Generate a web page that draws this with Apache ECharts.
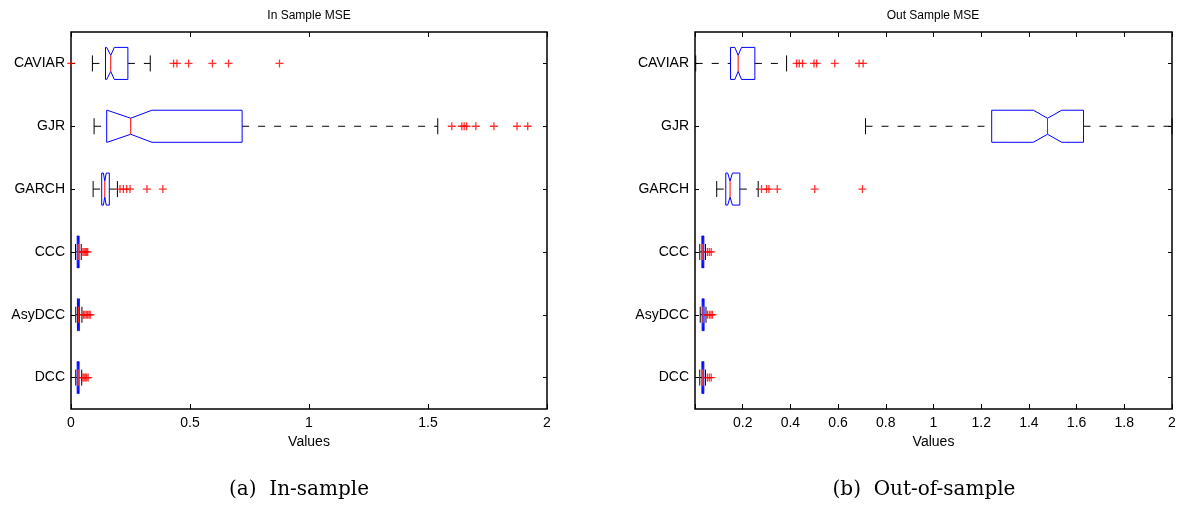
<!DOCTYPE html>
<html>
<head>
<meta charset="utf-8">
<script src="https://cdn.jsdelivr.net/npm/echarts@6/dist/echarts.min.js"></script>
<style>
html,body{margin:0;padding:0;background:#fff;}
#chart{width:1181px;height:508px;}
</style>
</head>
<body>
<div id="chart"></div>
<script>
// ---------- DATA ----------
const categories = ['CAVIAR', 'GJR', 'GARCH', 'CCC', 'AsyDCC', 'DCC'];

// In-sample MSE box statistics (per category)
const inLowWhisker  = [0.090, 0.097, 0.093, 0.019, 0.020, 0.020];
const inQ1          = [0.145, 0.150, 0.129, 0.026, 0.027, 0.026];
const inNotchLo     = [0.150, 0.152, 0.136, 0.028, 0.029, 0.028];
const inMedian      = [0.167, 0.251, 0.142, 0.030, 0.031, 0.030];
const inNotchHi     = [0.182, 0.340, 0.148, 0.032, 0.033, 0.032];
const inQ3          = [0.239, 0.719, 0.161, 0.034, 0.035, 0.034];
const inHighWhisker = [0.333, 1.541, 0.195, 0.043, 0.046, 0.045];
const inOutliers = [
  [0.001, 0.431, 0.445, 0.494, 0.594, 0.662, 0.876],
  [1.600, 1.642, 1.652, 1.662, 1.701, 1.777, 1.874, 1.919],
  [0.206, 0.220, 0.234, 0.248, 0.319, 0.386],
  [0.050, 0.055, 0.060, 0.065, 0.070],
  [0.052, 0.058, 0.064, 0.070, 0.076, 0.081],
  [0.050, 0.055, 0.060, 0.066, 0.072]
];

// Out-of-sample MSE box statistics (per category)
const outLowWhisker  = [0.003, 0.715, 0.091, 0.020, 0.022, 0.020];
const outQ1          = [0.149, 1.244, 0.129, 0.029, 0.030, 0.029];
const outNotchLo     = [0.167, 1.419, 0.137, 0.031, 0.032, 0.031];
const outMedian      = [0.181, 1.478, 0.147, 0.033, 0.034, 0.033];
const outNotchHi     = [0.195, 1.538, 0.157, 0.035, 0.036, 0.035];
const outQ3          = [0.251, 1.629, 0.188, 0.037, 0.038, 0.037];
const outHighWhisker = [0.384, 2.000, 0.265, 0.044, 0.046, 0.044];
const outOutliers = [
  [0.426, 0.437, 0.451, 0.499, 0.510, 0.586, 0.688, 0.705],
  [],
  [0.279, 0.300, 0.310, 0.345, 0.502, 0.702],
  [0.052, 0.060, 0.068],
  [0.052, 0.060, 0.067, 0.073],
  [0.052, 0.060, 0.068]
];

const inTicks = [0, 0.5, 1, 1.5, 2];
const outTicks = [0, 0.2, 0.4, 0.6, 0.8, 1, 1.2, 1.4, 1.6, 1.8, 2];

// ---------- BUILD ----------
function boxData(lo, q1, nlo, med, nhi, q3, hi) {
  return categories.map((c, i) => [i, lo[i], q1[i], nlo[i], med[i], nhi[i], q3[i], hi[i]]);
}
function outlierData(list) {
  const d = [];
  list.forEach((arr, i) => arr.forEach(v => d.push([v, i])));
  return d;
}

function renderBox(params, api) {
  const ci = api.value(0);
  const X = v => api.coord([v, ci])[0];
  const y = api.coord([0, ci])[1];
  const band = api.size([0, 1])[1];
  const h = band * 0.255;
  const hn = h * 0.5;
  const cap = h * 0.5;
  const xlo = X(api.value(1)), xq1 = X(api.value(2)), xnl = X(api.value(3)),
        xmd = X(api.value(4)), xnh = X(api.value(5)), xq3 = X(api.value(6)), xhi = X(api.value(7));
  const dash = { stroke: '#000', lineWidth: 1, lineDash: [7, 9], fill: null };
  const solid = { stroke: '#000', lineWidth: 1, fill: null };
  return {
    type: 'group',
    children: [
      { type: 'line', shape: { x1: xlo, y1: y, x2: xq1, y2: y }, style: dash },
      { type: 'line', shape: { x1: xq3, y1: y, x2: xhi, y2: y }, style: dash },
      { type: 'line', shape: { x1: xlo, y1: y - cap, x2: xlo, y2: y + cap }, style: solid },
      { type: 'line', shape: { x1: xhi, y1: y - cap, x2: xhi, y2: y + cap }, style: solid },
      { type: 'polygon', shape: { points: [
          [xq1, y - h], [xnl, y - h], [xmd, y - hn], [xnh, y - h], [xq3, y - h],
          [xq3, y + h], [xnh, y + h], [xmd, y + hn], [xnl, y + h], [xq1, y + h]
        ] }, style: { fill: null, stroke: '#0000ff', lineWidth: 1 } },
      { type: 'line', shape: { x1: xmd, y1: y - hn, x2: xmd, y2: y + hn }, style: { stroke: '#ff0000', lineWidth: 1 } }
    ]
  };
}

const FONT = 'Liberation Sans, Arial, Helvetica, sans-serif';
const plusSymbol = 'path://M3.35,0H4.65V3.35H8V4.65H4.65V8H3.35V4.65H0V3.35H3.35Z';

function bottomAxis(grid, interval, hideZero) {
  return {
    type: 'value', gridIndex: grid, position: 'bottom', min: 0, max: 2, interval: interval,
    axisLine: { show: false, onZero: false },
    axisTick: { show: true, inside: true, length: 5, lineStyle: { color: '#000' } },
    splitLine: { show: false },
    axisLabel: {
      color: '#000', fontSize: 14, fontFamily: FONT, margin: 7,
      formatter: v => (hideZero && v === 0) ? '' : String(Math.round(v * 10) / 10)
    },
    name: 'Values', nameLocation: 'middle', nameGap: 23,
    nameTextStyle: { color: '#000', fontSize: 14, fontFamily: FONT }
  };
}
function topAxis(grid, interval) {
  return {
    type: 'value', gridIndex: grid, position: 'top', min: 0, max: 2, interval: interval,
    axisLine: { show: false, onZero: false },
    axisTick: { show: true, inside: true, length: 5, lineStyle: { color: '#000' } },
    splitLine: { show: false }, axisLabel: { show: false }
  };
}
function catAxis(grid, pos, labels) {
  return {
    type: 'category', gridIndex: grid, position: pos, data: categories, inverse: true,
    axisLine: { show: false, onZero: false },
    axisTick: { show: true, inside: true, length: 4, alignWithLabel: true, lineStyle: { color: '#000' } },
    splitLine: { show: false },
    axisLabel: { show: labels, color: '#000', fontSize: 14, fontFamily: FONT, margin: 6 }
  };
}

const option = {
  animation: false,
  backgroundColor: '#fff',
  grid: [
    { left: 71, top: 32, width: 476, height: 377, show: true, borderColor: '#000', borderWidth: 1.5, backgroundColor: 'transparent' },
    { left: 695, top: 32, width: 477, height: 377, show: true, borderColor: '#000', borderWidth: 1.5, backgroundColor: 'transparent' }
  ],
  xAxis: [
    bottomAxis(0, inTicks[1] - inTicks[0], false),
    topAxis(0, inTicks[1] - inTicks[0]),
    bottomAxis(1, outTicks[1] - outTicks[0], true),
    topAxis(1, outTicks[1] - outTicks[0])
  ],
  yAxis: [
    catAxis(0, 'left', true),
    catAxis(0, 'right', false),
    catAxis(1, 'left', true),
    catAxis(1, 'right', false)
  ],
  series: [
    { type: 'custom', xAxisIndex: 0, yAxisIndex: 0, renderItem: renderBox,
      encode: { x: [1, 2, 3, 4, 5, 6, 7], y: 0 },
      data: boxData(inLowWhisker, inQ1, inNotchLo, inMedian, inNotchHi, inQ3, inHighWhisker) },
    { type: 'scatter', xAxisIndex: 0, yAxisIndex: 0, symbol: plusSymbol, symbolSize: 8,
      itemStyle: { color: '#ff0000' }, data: outlierData(inOutliers) },
    { type: 'custom', xAxisIndex: 2, yAxisIndex: 2, renderItem: renderBox,
      encode: { x: [1, 2, 3, 4, 5, 6, 7], y: 0 },
      data: boxData(outLowWhisker, outQ1, outNotchLo, outMedian, outNotchHi, outQ3, outHighWhisker) },
    { type: 'scatter', xAxisIndex: 2, yAxisIndex: 2, symbol: plusSymbol, symbolSize: 8,
      itemStyle: { color: '#ff0000' }, data: outlierData(outOutliers) }
  ],
  graphic: [
    { type: 'text', x: 309, y: 16, style: { text: 'In Sample MSE', fill: '#000', font: '12px ' + FONT, align: 'center', verticalAlign: 'middle', textAlign: 'center', textVerticalAlign: 'middle' } },
    { type: 'text', x: 933, y: 16, style: { text: 'Out Sample MSE', fill: '#000', font: '12px ' + FONT, align: 'center', verticalAlign: 'middle', textAlign: 'center', textVerticalAlign: 'middle' } },
    { type: 'text', x: 299, y: 490, style: { text: '(a)  In-sample', fill: '#000', font: '20px "DejaVu Serif", serif', align: 'center', verticalAlign: 'middle', textAlign: 'center', textVerticalAlign: 'middle' } },
    { type: 'text', x: 924, y: 490, style: { text: '(b)  Out-of-sample', fill: '#000', font: '20px "DejaVu Serif", serif', align: 'center', verticalAlign: 'middle', textAlign: 'center', textVerticalAlign: 'middle' } }
  ]
};

const chart = echarts.init(document.getElementById('chart'), null, { renderer: 'canvas' });
chart.setOption(option);
</script>
</body>
</html>
